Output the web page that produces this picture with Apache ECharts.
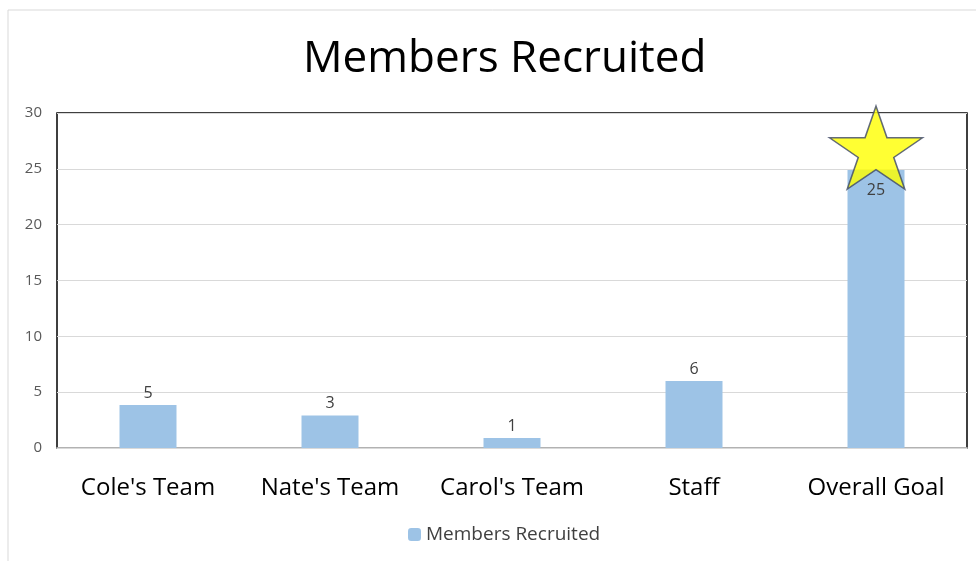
<!DOCTYPE html>
<html>
<head>
<meta charset="utf-8">
<script src="https://cdn.jsdelivr.net/npm/echarts@6/dist/echarts.min.js"></script>
<style>
html, body { margin: 0; padding: 0; background: #fff; }
#chart { width: 976px; height: 561px; }
</style>
</head>
<body>
<div id="chart"></div>
<script>
"use strict";

// values
var categories = ["Cole's Team", "Nate's Team", "Carol's Team", "Staff", "Overall Goal"];
var barValues = [3.85, 2.9, 0.9, 6, 24.9];
var barLabels = ['5', '3', '1', '6', '25'];
var starPoint = [4, 26.9];
var yTicks = [0, 5, 10, 15, 20, 25, 30];

var STAR_PATH = 'path://M50,0 L61.8,36.3 L100,36.3 L69.1,58.8 L80.9,95.1 L50,72.7 L19.1,95.1 L30.9,58.8 L0,36.3 L38.2,36.3 Z';

var chart = echarts.init(document.getElementById('chart'));

var barData = [];
for (var i = 0; i < barValues.length; i++) {
	var item = { value: barValues[i], label: { formatter: barLabels[i] } };
	if (i === barValues.length - 1) {
		item.label.position = 'insideTop';
		item.label.distance = 12;
	}
	barData.push(item);
}

chart.setOption({
	animation: false,
	textStyle: { fontFamily: 'Open Sans' },
	title: {
		text: 'Members Recruited',
		left: 298,
		top: 32,
		textStyle: { fontSize: 44, fontWeight: 'normal', color: '#000', fontFamily: 'Open Sans' }
	},
	graphic: [{
		type: 'rect',
		shape: { x: 8, y: 10, width: 980, height: 560 },
		style: { fill: 'none', stroke: '#d9d9d9', lineWidth: 1 },
		silent: true,
		z: -10
	}],
	grid: {
		left: 57,
		right: 9,
		top: 113,
		bottom: 113,
		show: true,
		borderColor: '#000',
		borderWidth: 1.5
	},
	legend: {
		bottom: 12,
		left: 403,
		itemWidth: 13,
		itemHeight: 13,
		itemGap: 5,
		data: ['Members Recruited'],
		textStyle: { fontSize: 19, color: '#404040' }
	},
	xAxis: {
		type: 'category',
		data: categories,
		axisLine: { show: true, lineStyle: { color: '#d9d9d9', width: 1.5 } },
		axisTick: { show: false },
		axisLabel: { fontSize: 24, color: '#000', margin: 28, interval: 0, hideOverlap: false }
	},
	yAxis: {
		type: 'value',
		min: yTicks[0],
		max: yTicks[yTicks.length - 1],
		interval: yTicks[1] - yTicks[0],
		axisLine: { show: false },
		axisTick: { show: false },
		axisLabel: { fontSize: 15, color: '#595959', margin: 15 },
		splitLine: { lineStyle: { color: '#d9d9d9' } }
	},
	series: [{
		name: 'Members Recruited',
		type: 'bar',
		barWidth: 57,
		itemStyle: { color: '#9dc3e6' },
		label: { show: true, position: 'top', fontSize: 16, color: '#404040', distance: 4 },
		data: barData,
		z: 2
	}, {
		name: 'star',
		type: 'scatter',
		symbol: STAR_PATH,
		symbolSize: [93, 83],
		itemStyle: { color: '#ffff00', borderColor: '#3d4766', borderWidth: 1.5 },
		data: [starPoint],
		z: 3
	}]
});
</script>
</body>
</html>
